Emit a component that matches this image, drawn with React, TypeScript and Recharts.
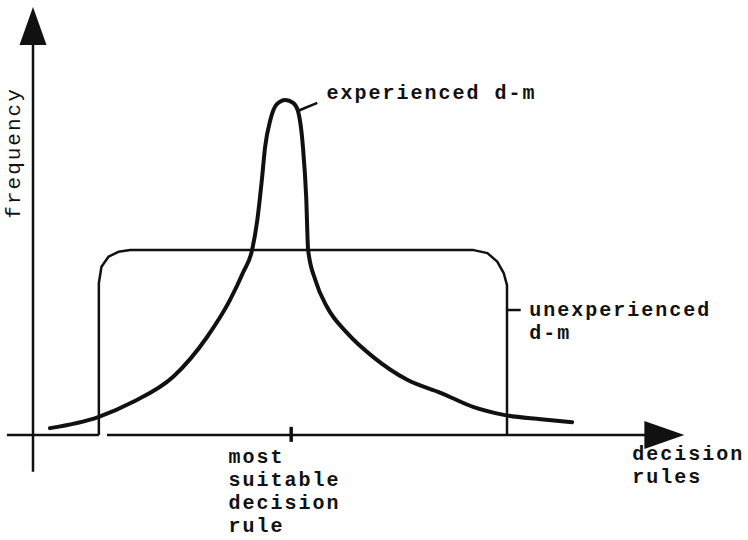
import { ComposedChart, Line, XAxis, YAxis, ReferenceLine, ReferenceDot } from 'recharts';

// decision-rule position (x) and frequency (y), both in arbitrary units
const experiencedX = [2.6, 10.0, 15.3, 21.5, 26.7, 30.2, 32.2, 33.6, 34.4, 35.1, 35.6, 36.4, 37.4, 38.7, 39.9, 40.6, 41.4, 41.9, 42.2, 43.3, 45.1, 48.2, 52.2, 57.4, 62.6, 67.6, 72.2, 77.9, 82.7];
const experiencedY = [1.6, 4.2, 7.7, 13.6, 22.9, 31.5, 37.9, 43.2, 50.2, 59.6, 67.3, 73.6, 77.3, 78.3, 77.6, 75.9, 67.3, 55.6, 43.2, 36.2, 29.9, 23.8, 18.2, 12.9, 9.8, 6.5, 4.7, 3.7, 3.0];

const unexperiencedX = [10.1, 10.1, 10.5, 11.6, 13.1, 14.9, 67.6, 69.7, 71.2, 72.2, 72.7, 72.7];
const unexperiencedY = [0, 35.5, 39.3, 41.7, 42.8, 43.2, 43.2, 42.5, 40.5, 37.8, 35.0, 0];

const bestRule = 39.6;

const yAxisTitle = 'frequency';
const xAxisTitle = ['decision', 'rules'];
const bestRuleLabel = ['most', 'suitable', 'decision', 'rule'];
const experiencedLabel = ['experienced d-m'];
const unexperiencedLabel = ['unexperienced', 'd-m'];

const experienced = experiencedX.map((x, i) => ({ x, y: experiencedY[i] }));
const unexperienced = unexperiencedX.map((x, i) => ({ x, y: unexperiencedY[i] }));

const INK = '#111';
const FONT = '"Liberation Mono", "DejaVu Sans Mono", monospace';

// typewriter look: small glyphs on a wide pitch
const textShape = (lines: string[]) => (props: any) => (
	<text
		x={props.cx}
		y={props.cy}
		fill={INK}
		fontFamily={FONT}
		fontSize={20}
		letterSpacing={2}
		fontWeight='bold'
	>
		{lines.map((line, i) => (
			<tspan key={i} x={props.cx} dy={i === 0 ? 0 : 23}>
				{line}
			</tspan>
		))}
	</text>
);

const rotatedText = (label: string) => (props: any) => (
	<text
		x={props.cx}
		y={props.cy}
		fill={INK}
		fontFamily={FONT}
		fontSize={21}
		letterSpacing={2}
		textAnchor='middle'
		transform={`rotate(-90, ${props.cx}, ${props.cy})`}
	>
		{label}
	</text>
);

const upArrow = (props: any) => (
	<polygon
		points={`${props.cx},${props.cy} ${props.cx - 13.5},${props.cy + 38} ${props.cx + 13.5},${props.cy + 38}`}
		fill={INK}
	/>
);

const rightArrow = (props: any) => (
	<polygon
		points={`${props.cx},${props.cy} ${props.cx - 40},${props.cy - 14} ${props.cx - 40},${props.cy + 14}`}
		fill={INK}
	/>
);

const App = () => {
	return (
		<div style={{ position: 'absolute', left: 0, top: 0, background: '#fff' }}>
			<ComposedChart
				width={748}
				height={540}
				margin={{ top: 7, right: 63, bottom: 105, left: 33 }}
			>
				<XAxis dataKey='x' type='number' domain={[0, 100]} hide />
				<YAxis type='number' domain={[0, 100]} hide />

				{/* axes */}
				<ReferenceLine segment={[{ x: 0, y: -8.6 }, { x: 0, y: 92 }]} stroke={INK} strokeWidth={2.5} ifOverflow='visible' />
				<ReferenceLine segment={[{ x: -4, y: 0 }, { x: 10.1, y: 0 }]} stroke={INK} strokeWidth={2.5} ifOverflow='visible' />
				<ReferenceLine segment={[{ x: 11.35, y: 0 }, { x: 94, y: 0 }]} stroke={INK} strokeWidth={2.5} ifOverflow='visible' />
				<ReferenceLine segment={[{ x: bestRule, y: -1.6 }, { x: bestRule, y: 1.9 }]} stroke={INK} strokeWidth={3.5} ifOverflow='visible' />
				<ReferenceDot x={0} y={100} r={0} shape={upArrow} ifOverflow='visible' />
				<ReferenceDot x={99.9} y={0} r={0} shape={rightArrow} ifOverflow='visible' />

				<Line
					data={unexperienced}
					dataKey='y'
					type='linear'
					stroke={INK}
					strokeWidth={2.5}
					strokeLinejoin='round'
					dot={false}
					isAnimationActive={false}
				/>
				<Line
					data={experienced}
					dataKey='y'
					type='monotone'
					stroke={INK}
					strokeWidth={4}
					strokeLinecap='round'
					dot={false}
					isAnimationActive={false}
				/>

				{/* leader lines */}
				<ReferenceLine segment={[{ x: 40.6, y: 75.7 }, { x: 43.6, y: 77.6 }]} stroke={INK} strokeWidth={2.5} ifOverflow='visible' />
				<ReferenceLine segment={[{ x: 72.7, y: 29.2 }, { x: 74.8, y: 29.2 }]} stroke={INK} strokeWidth={2.5} ifOverflow='visible' />

				{/* texts */}
				<ReferenceDot x={45.0} y={78.5} r={0} shape={textShape(experiencedLabel)} ifOverflow='visible' />
				<ReferenceDot x={76.1} y={27.8} r={0} shape={textShape(unexperiencedLabel)} ifOverflow='visible' />
				<ReferenceDot x={91.9} y={-5.8} r={0} shape={textShape(xAxisTitle)} ifOverflow='visible' />
				<ReferenceDot x={30.0} y={-6.5} r={0} shape={textShape(bestRuleLabel)} ifOverflow='visible' />
				<ReferenceDot x={-2.0} y={65.9} r={0} shape={rotatedText(yAxisTitle)} ifOverflow='visible' />
			</ComposedChart>
		</div>
	);
};

export default App;
